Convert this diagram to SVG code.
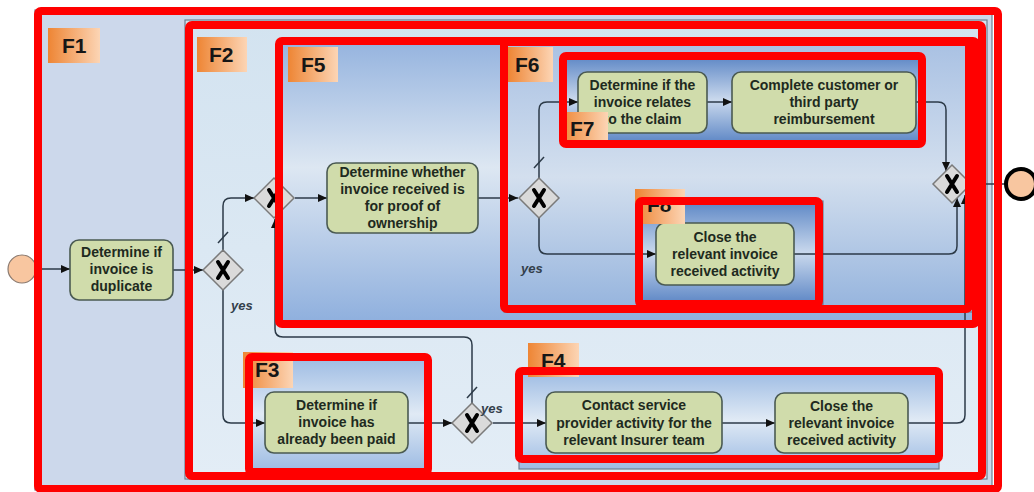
<svg xmlns="http://www.w3.org/2000/svg" width="1034" height="492" viewBox="0 0 1034 492">
  <defs>
    <linearGradient id="gF2" x1="0" y1="0" x2="0" y2="1">
      <stop offset="0" stop-color="#d3e3f0"/>
      <stop offset="1" stop-color="#e3edf6"/>
    </linearGradient>
    <linearGradient id="gF5" x1="0" y1="0" x2="0" y2="1">
      <stop offset="0" stop-color="#93b2de"/>
      <stop offset="0.45" stop-color="#dde7f2"/>
      <stop offset="1" stop-color="#8daedd"/>
    </linearGradient>
    <linearGradient id="gF6" x1="0" y1="0" x2="0" y2="1">
      <stop offset="0" stop-color="#a9c1e3"/>
      <stop offset="0.5" stop-color="#d3dfee"/>
      <stop offset="1" stop-color="#94b3dd"/>
    </linearGradient>
    <linearGradient id="gDeep" x1="0" y1="0" x2="0" y2="1">
      <stop offset="0" stop-color="#5c86c5"/>
      <stop offset="0.5" stop-color="#cad9ed"/>
      <stop offset="1" stop-color="#5a84c4"/>
    </linearGradient>
    <linearGradient id="gLow" x1="0" y1="0" x2="0" y2="1">
      <stop offset="0" stop-color="#9dbbe3"/>
      <stop offset="0.5" stop-color="#e0eaf5"/>
      <stop offset="1" stop-color="#9dbbe3"/>
    </linearGradient>
    <linearGradient id="gTag" x1="0" y1="0" x2="1" y2="0">
      <stop offset="0" stop-color="#ee8534"/>
      <stop offset="1" stop-color="#fcd5b5"/>
    </linearGradient>
    <marker id="arr" markerWidth="10" markerHeight="10" refX="9" refY="5" orient="auto" markerUnits="userSpaceOnUse">
      <path d="M0,1 L9,5 L0,9 Z" fill="#111"/>
    </marker>
  </defs>
  <style>
    .panel { stroke: #6f7f90; stroke-width: 1.2; }
    .task rect { fill: #d0dcab; stroke: #4a5a52; stroke-width: 1.6; }
    .task text { font-family: "Liberation Sans", Arial, sans-serif; font-weight: bold; font-size: 14px; fill: #1e2a20; text-anchor: middle; }
    .flow { fill: none; stroke: #2c3a48; stroke-width: 1.5; }
    .gw polygon { fill: #dadada; stroke: #7a7a7a; stroke-width: 1.5; }
    .gw path { stroke: #000; stroke-width: 4; stroke-linecap: round; fill: none; }
    .yes { font-family: "Liberation Sans", Arial, sans-serif; font-weight: bold; font-style: italic; font-size: 13px; fill: #34404c; }
    .tag rect { fill: url(#gTag); }
    .tag text { font-family: "Liberation Sans", Arial, sans-serif; font-weight: bold; font-size: 21px; fill: #161616; }
    .frame { fill: none; stroke: #ff0000; stroke-width: 8; }
  </style>

  <rect width="1034" height="492" fill="#ffffff"/>

  <!-- nested sub-process panels -->
  <g id="panels">
    <rect class="panel" x="35" y="10" width="957" height="480" fill="#ccd8eb"/>
    <rect class="panel" x="185" y="20" width="802" height="459" fill="url(#gF2)"/>
    <rect class="panel" x="277" y="38" width="701" height="288" rx="6" fill="url(#gF5)"/>
    <rect class="panel" x="504" y="42" width="471" height="270" fill="url(#gF6)"/>
    <rect class="panel" x="563" y="56" width="359" height="88" fill="url(#gDeep)"/>
    <rect class="panel" x="639" y="201" width="184" height="104" fill="url(#gDeep)"/>
    <rect class="panel" x="249" y="357" width="181" height="114" fill="url(#gLow)"/>
    <rect class="panel" x="519" y="371" width="420" height="98" fill="url(#gLow)"/>
  </g>

  <!-- sequence flows -->
  <g id="connectors">
    <path class="flow" d="M36,269 H70" marker-end="url(#arr)"/>
    <path class="flow" d="M173,270 H203" marker-end="url(#arr)"/>
    <path class="flow" d="M223,250 V206 Q223,198 231,198 H254" marker-end="url(#arr)"/>
    <path class="flow" d="M218,243 L228,232"/>
    <path class="flow" d="M223,290 V415 Q223,423 231,423 H265" marker-end="url(#arr)"/>
    <path class="flow" d="M408,423 H452" marker-end="url(#arr)"/>
    <path class="flow" d="M472,403 V345 Q472,337 464,337 H283 Q275,337 275,329 V219" marker-end="url(#arr)"/>
    <path class="flow" d="M467,398 L477,387"/>
    <path class="flow" d="M493,423 H546" marker-end="url(#arr)"/>
    <path class="flow" d="M722,423 H775" marker-end="url(#arr)"/>
    <path class="flow" d="M908,423 H957 Q965,423 965,415 V195" marker-end="url(#arr)"/>
    <path class="flow" d="M295,198 H327" marker-end="url(#arr)"/>
    <path class="flow" d="M478,198 H518" marker-end="url(#arr)"/>
    <path class="flow" d="M539,178 V110 Q539,102 547,102 H578" marker-end="url(#arr)"/>
    <path class="flow" d="M534,168 L544,157"/>
    <path class="flow" d="M707,102 H732" marker-end="url(#arr)"/>
    <path class="flow" d="M916,102 H938 Q946,102 946,110 V171" marker-end="url(#arr)"/>
    <path class="flow" d="M539,218 V246 Q539,254 547,254 H656" marker-end="url(#arr)"/>
    <path class="flow" d="M794,254 H949 Q957,254 957,246 V198" marker-end="url(#arr)"/>
    <path class="flow" d="M971,184 H1005"/>
  </g>

  <g id="start">
    <circle cx="22" cy="269" r="14" fill="#f8c6a0" stroke="#8a7a70" stroke-width="1.2"/>
  </g>

  <g id="end">
    <circle cx="1021" cy="184" r="15" fill="#f8c6a0" stroke="#000" stroke-width="4"/>
  </g>

  <g id="task-duplicate" class="task">
    <rect x="70" y="240" width="103" height="60" rx="9"/>
    <text x="121.5" y="257">Determine if</text>
    <text x="121.5" y="274">invoice is</text>
    <text x="121.5" y="291">duplicate</text>
  </g>

  <g id="task-paid" class="task">
    <rect x="265" y="392" width="143" height="61" rx="9"/>
    <text x="336.5" y="410">Determine if</text>
    <text x="336.5" y="427">invoice has</text>
    <text x="336.5" y="444">already been paid</text>
  </g>

  <g id="task-contact" class="task">
    <rect x="546" y="392" width="176" height="61" rx="9"/>
    <text x="634" y="410">Contact service</text>
    <text x="634" y="428">provider activity for the</text>
    <text x="634" y="445">relevant Insurer team</text>
  </g>

  <g id="task-close-f4" class="task">
    <rect x="775" y="393" width="133" height="60" rx="9"/>
    <text x="841.5" y="411">Close the</text>
    <text x="841.5" y="428">relevant invoice</text>
    <text x="841.5" y="445">received activity</text>
  </g>

  <g id="task-ownership" class="task">
    <rect x="327" y="163" width="151" height="70" rx="9"/>
    <text x="402.5" y="177">Determine whether</text>
    <text x="402.5" y="194">invoice received is</text>
    <text x="402.5" y="211">for proof of</text>
    <text x="402.5" y="228">ownership</text>
  </g>

  <g id="task-claim" class="task">
    <rect x="578" y="72" width="129" height="61" rx="9"/>
    <text x="642.5" y="90">Determine if the</text>
    <text x="642.5" y="107">invoice relates</text>
    <text x="642.5" y="124">to the claim</text>
  </g>

  <g id="task-reimburse" class="task">
    <rect x="732" y="72" width="184" height="61" rx="9"/>
    <text x="824" y="90">Complete customer or</text>
    <text x="824" y="107">third party</text>
    <text x="824" y="124">reimbursement</text>
  </g>

  <g id="task-close-f8" class="task">
    <rect x="656" y="223" width="138" height="62" rx="9"/>
    <text x="725" y="242">Close the</text>
    <text x="725" y="259">relevant invoice</text>
    <text x="725" y="276">received activity</text>
  </g>

  <!-- exclusive gateways -->
  <g id="gw-duplicate" class="gw">
    <polygon points="223,250 243,270 223,290 203,270"/>
    <path d="M218,262 L228,278 M228,262 L218,278"/>
  </g>
  <g id="gw-merge" class="gw">
    <polygon points="274,178 294,198 274,218 254,198"/>
    <path d="M269,190 L279,206 M279,190 L269,206"/>
  </g>
  <g id="gw-paid" class="gw">
    <polygon points="472,403 492,423 472,443 452,423"/>
    <path d="M467,415 L477,431 M477,415 L467,431"/>
  </g>
  <g id="gw-claim" class="gw">
    <polygon points="539,178 559,198 539,218 519,198"/>
    <path d="M534,190 L544,206 M544,190 L534,206"/>
  </g>
  <g id="gw-join" class="gw">
    <polygon points="952,165 971,184 952,203 933,184"/>
    <path d="M947,176 L957,192 M957,176 L947,192"/>
  </g>

  <g id="labels">
    <text class="yes" x="231" y="310">yes</text>
    <text class="yes" x="521" y="273">yes</text>
    <text class="yes" x="481" y="413">yes</text>
  </g>

  <!-- fragment tags -->
  <g id="tag-f1" class="tag"><rect x="48" y="28" width="52" height="35"/><text x="62" y="53">F1</text></g>
  <g id="tag-f2" class="tag"><rect x="197" y="37" width="50" height="35"/><text x="209" y="62">F2</text></g>
  <g id="tag-f5" class="tag"><rect x="288" y="47" width="50" height="35"/><text x="301" y="72">F5</text></g>
  <g id="tag-f6" class="tag"><rect x="508" y="47" width="45" height="35"/><text x="515" y="72">F6</text></g>
  <g id="tag-f7" class="tag"><rect x="560" y="112" width="48" height="28"/><text x="570" y="136">F7</text></g>
  <g id="tag-f8" class="tag"><rect x="635" y="189" width="50" height="35"/><text x="647" y="212">F8</text></g>
  <g id="tag-f3" class="tag"><rect x="243" y="352" width="50" height="36"/><text x="255" y="377">F3</text></g>
  <g id="tag-f4" class="tag"><rect x="528" y="343" width="51" height="34"/><text x="541" y="368">F4</text></g>

  <!-- fragment outlines -->
  <g id="frames">
    <rect class="frame" x="38" y="11" width="960" height="478" rx="3"/>
    <rect class="frame" x="189" y="25" width="793" height="451" rx="3"/>
    <rect class="frame" x="279" y="41" width="697" height="283" rx="3"/>
    <rect class="frame" x="504" y="42" width="465" height="267" rx="3"/>
    <rect class="frame" x="563" y="56" width="359" height="88" rx="3"/>
    <rect class="frame" x="639" y="201" width="180" height="103" rx="3"/>
    <rect class="frame" x="249" y="357" width="179" height="115" rx="3"/>
    <rect class="frame" x="519" y="371" width="420" height="88" rx="3"/>
  </g>
</svg>
